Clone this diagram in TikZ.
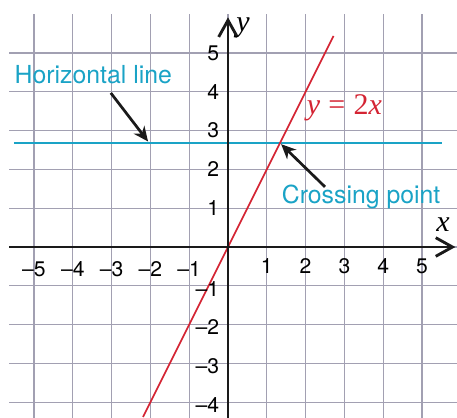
\documentclass[tikz,border=0pt]{standalone}
\usepackage{fontspec}
\setmainfont{TeX Gyre Heros}
\newfontfamily\eqfont{Liberation Serif}
\usetikzlibrary{arrows.meta}
\definecolor{gridgrey}{HTML}{A2A0B2}
\definecolor{linecyan}{HTML}{1AA3C6}
\definecolor{linered}{HTML}{D42433}
\definecolor{axisblack}{HTML}{1A1A1A}

\begin{document}
\begin{tikzpicture}[
        font=\fontsize{15.5}{18}\selectfont,
        gridline/.style={gridgrey, line width=0.9pt},
        axis/.style={axisblack, line width=2.1pt,
                     -{Straight Barb[length=4.3mm, width=4.8mm]}},
        arr/.style={axisblack, line width=2pt,
                    -{Stealth[length=3.8mm, width=3.4mm, inset=1.2mm]}},
        lab/.style={linecyan, font=\fontsize{18.2}{21}\selectfont},
        tick/.style={inner sep=0pt},
        var/.style={font=\eqfont\itshape\fontsize{22}{24}\selectfont}
    ]
        \useasboundingbox (-5.876,-4.381) rectangle (5.902,6.366);

        % grid
        \foreach \i in {-5,...,5}
            \draw[gridline] (\i,-4.4) -- (\i,6.0);
        \foreach \j in {-4,...,5}
            \draw[gridline] (-5.64,\j) -- (5.91,\j);

        % the two lines
        \draw[linecyan, line width=1.4pt] (-5.52,2.68) -- (5.52,2.68);
        \draw[linered, line width=1.3pt] (-2.19,-4.38) -- (2.72,5.44);

        % axes
        \coordinate (xstart) at (-5.64,0);
        \coordinate (xend) at (5.86,0);
        \coordinate (ystart) at (0,-4.4);
        \coordinate (yend) at (0,5.92);
        \draw[axis] (xstart) -- (xend);
        \draw[axis] (ystart) -- (yend);
        \node[var] (xlab) at (5.54,0.57) {x};
        \node[var] (ylab) at (0.39,5.64) {y};

        % tick labels
        \foreach \i in {1,...,5}
            \node[tick] (xt\i) at (\i,-0.49) {\i};
        \foreach \i in {1,...,5}
            \node[tick] (xm\i) at (-\i,-0.57) {--\i};
        \foreach \j in {1,...,5}
            \node[tick, anchor=east] (yt\j) at (-0.22,\j) {\j};
        \foreach \j in {1,...,4}
            \node[tick, anchor=east] (ym\j) at (-0.22,-\j-0.07) {--\j};

        % labels
        \node[lab] (hlab) at (-3.47,4.43) {Horizontal line};
        \node[lab] (clab) at (3.43,1.29) {Crossing point};
        \node[var, linered] (eqlab) at (3.0,3.58) {y\;\textup{=}\;\textup{2}x};

        % pointers
        \coordinate (hstart) at (-3.02,3.97);
        \coordinate (hpoint) at (-2.06,2.72);
        \coordinate (cstart) at (2.5,1.55);
        \coordinate (cross) at (1.37,2.65);
        \draw[arr] (hstart) -- (hpoint);
        \draw[arr] (cstart) -- (cross);
    \end{tikzpicture}
\end{document}
